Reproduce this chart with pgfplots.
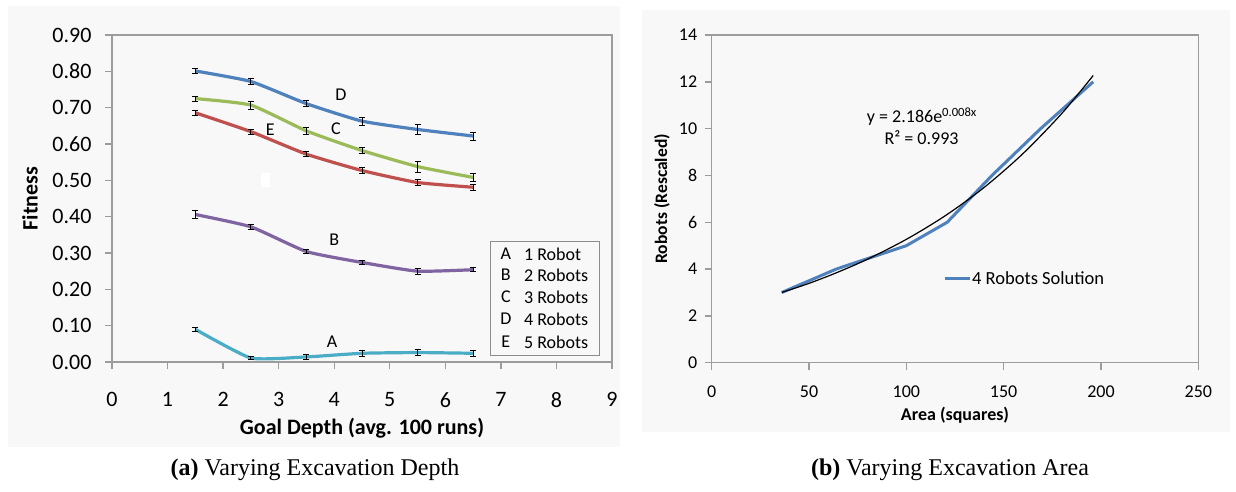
\documentclass[border=0pt]{standalone}
\usepackage{fontspec}
\setmainfont{Carlito}
\newfontfamily\capfont{Liberation Serif}
\usepackage{pgfplots}
\pgfplotsset{compat=1.18}
\definecolor{cA}{HTML}{4BACC6}
\definecolor{cB}{HTML}{8064A2}
\definecolor{cC}{HTML}{9BBB59}
\definecolor{cD}{HTML}{4F81BD}
\definecolor{cE}{HTML}{C0504D}
\definecolor{axgray}{HTML}{9C9C9C}
\definecolor{leggray}{HTML}{8C8C8C}
\definecolor{panel}{HTML}{F8F8F8}
\begin{document}
\begin{tikzpicture}[x=1pt,y=1pt]
\path[use as bounding box] (0,0) rectangle (1236,491);
\fill[white] (0,0) rectangle (1236,491);
\fill[panel] (8,44) rectangle (620,485);
\fill[panel] (642,59) rectangle (1230,481);
\pgfplotsset{
  errstyle/.style={error bars/.cd, y dir=both, y explicit, error mark=|,
    error bar style={black, line width=0.9pt},
    error mark options={black, mark size=3pt, line width=0.9pt}},
}
\begin{axis}[
  at={(112pt,129pt)}, anchor=south west, scale only axis,
  width=500pt, height=327pt,
  xmin=0, xmax=9, ymin=0, ymax=0.9,
  xtick={0,1,2,3,4,5,6,7,8,9},
  ytick={0,0.1,0.2,0.3,0.4,0.5,0.6,0.7,0.8,0.9},
  /pgf/number format/assume math mode=true,
  yticklabel style={/pgf/number format/fixed, /pgf/number format/fixed zerofill, /pgf/number format/precision=2, xshift=-10pt},
  xticklabel style={yshift=-20pt},
  tick label style={font=\fontsize{22}{24}\selectfont, text=black},
  tick align=outside, tick pos=left, major tick length=7pt,
  axis line style={axgray, line width=1.4pt},
  major tick style={axgray, line width=1.4pt},
  xlabel={\bfseries\fontsize{22}{24}\selectfont Goal Depth (avg. 100 runs)},
  ylabel={\bfseries\fontsize{22}{24}\selectfont Fitness},
  every axis x label/.style={at={(axis description cs:0.5,-0.2018)}, anchor=center},
  every axis y label/.style={at={(axis description cs:-0.164,0.5)}, anchor=center, rotate=90},
  clip=false,
]
% A 1 robot
\addplot[cA, line width=3.2pt, smooth, tension=0.3, errstyle] coordinates {
 (1.5,0.090) +- (0,0.006) (2.5,0.011) +- (0,0.004) (3.5,0.014) +- (0,0.007)
 (4.5,0.024) +- (0,0.009) (5.5,0.026) +- (0,0.009) (6.5,0.024) +- (0,0.009)};
% B 2 robots
\addplot[cB, line width=3.2pt, smooth, tension=0.3, errstyle] coordinates {
 (1.5,0.406) +- (0,0.011) (2.5,0.372) +- (0,0.007) (3.5,0.304) +- (0,0.006)
 (4.5,0.274) +- (0,0.006) (5.5,0.250) +- (0,0.008) (6.5,0.254) +- (0,0.006)};
% E 5 robots
\addplot[cE, line width=3.2pt, smooth, tension=0.3, errstyle] coordinates {
 (1.5,0.686) +- (0,0.007) (2.5,0.634) +- (0,0.007) (3.5,0.572) +- (0,0.007)
 (4.5,0.527) +- (0,0.009) (5.5,0.494) +- (0,0.009) (6.5,0.481) +- (0,0.009)};
% C 3 robots
\addplot[cC, line width=3.2pt, smooth, tension=0.3, errstyle] coordinates {
 (1.5,0.725) +- (0,0.007) (2.5,0.707) +- (0,0.011) (3.5,0.636) +- (0,0.009)
 (4.5,0.582) +- (0,0.009) (5.5,0.538) +- (0,0.015) (6.5,0.508) +- (0,0.011)};
% D 4 robots
\addplot[cD, line width=3.2pt, smooth, tension=0.3, errstyle] coordinates {
 (1.5,0.801) +- (0,0.006) (2.5,0.772) +- (0,0.009) (3.5,0.711) +- (0,0.009)
 (4.5,0.663) +- (0,0.011) (5.5,0.640) +- (0,0.013) (6.5,0.622) +- (0,0.011)};
\begin{scope}[every node/.style={font=\fontsize{18}{20}\selectfont, inner sep=0pt}]
\node at (axis cs:4.12,0.737) {D};
\node at (axis cs:4.03,0.643) {C};
\node at (axis cs:2.85,0.639) {E};
\node at (axis cs:4.00,0.336) {B};
\node at (axis cs:3.96,0.056) {A};
\end{scope}
\fill[white] (axis cs:2.68,0.482) rectangle (axis cs:2.84,0.520);
\draw[leggray, line width=1pt, fill=panel] (axis cs:6.82,0.019) rectangle (axis cs:8.77,0.333);
\begin{scope}[every node/.style={font=\fontsize{18}{20}\selectfont, inner sep=0pt}]
\node at (axis cs:7.09,0.297) {A}; \node[anchor=west] at (axis cs:7.415,0.297) {1 Robot};
\node at (axis cs:7.09,0.239) {B}; \node[anchor=west] at (axis cs:7.415,0.239) {2 Robots};
\node at (axis cs:7.09,0.179) {C}; \node[anchor=west] at (axis cs:7.415,0.179) {3 Robots};
\node at (axis cs:7.09,0.118) {D}; \node[anchor=west] at (axis cs:7.415,0.118) {4 Robots};
\node at (axis cs:7.09,0.055) {E}; \node[anchor=west] at (axis cs:7.415,0.055) {5 Robots};
\end{scope}
\end{axis}

\begin{axis}[
  at={(711.7pt,128.3pt)}, anchor=south west, scale only axis,
  width=486.6pt, height=327.7pt,
  xmin=0, xmax=250, ymin=0, ymax=14,
  xtick={0,50,100,150,200,250},
  ytick={0,2,4,6,8,10,12,14},
  /pgf/number format/assume math mode=true,
  yticklabel style={xshift=-4pt},
  xticklabel style={yshift=-13pt},
  tick label style={font=\fontsize{18}{20}\selectfont, text=black},
  tick align=outside, tick pos=left, major tick length=7pt,
  axis line style={axgray, line width=1.4pt},
  major tick style={axgray, line width=1.4pt},
  xlabel={\bfseries\fontsize{18}{20}\selectfont Area (squares)},
  ylabel={\bfseries\fontsize{17.5}{19}\selectfont Robots (Rescaled)},
  every axis x label/.style={at={(axis description cs:0.5,-0.16)}, anchor=center},
  every axis y label/.style={at={(axis description cs:-0.102,0.5)}, anchor=center, rotate=90},
  clip=false,
]
\addplot[cD, line width=3pt] coordinates {
 (36,3) (64,4) (100,5) (121,6) (144,8) (169,10) (196,12)};
\addplot[black, line width=1.2pt, smooth] coordinates {
 (36,3.00) (50,3.39) (64,3.84) (80,4.42) (100,5.27) (120,6.28)
 (140,7.49) (160,8.94) (180,10.66) (196,12.27)};
\draw[cD, line width=3pt] (axis cs:119.7,3.61) -- (axis cs:132.7,3.61);
\node[anchor=west, inner sep=0pt, font=\fontsize{18.5}{20}\selectfont] at (axis cs:133.7,3.61) {4 Robots Solution};
\node[inner sep=0pt, font=\fontsize{18}{20}\selectfont] at (axis cs:108,10.5) {y = 2.186e\textsuperscript{0.008x}};
\node[inner sep=0pt, font=\fontsize{18}{20}\selectfont] at (axis cs:107.8,9.61) {R² = 0.993};
\end{axis}

\node[font=\capfont\fontsize{24}{26}\selectfont] at (315,21) {\textbf{(a)} Varying Excavation Depth};
\node[font=\capfont\fontsize{24}{26}\selectfont] at (950,21) {\textbf{(b)} Varying Excavation Area};
\end{tikzpicture}
\end{document}
